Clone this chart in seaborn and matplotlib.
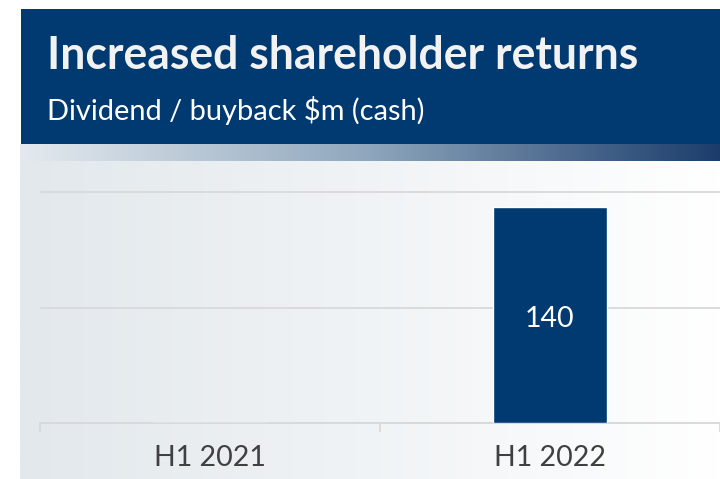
import numpy as np
import pandas as pd
import matplotlib
matplotlib.use("Agg")
import matplotlib.pyplot as plt
from matplotlib.colors import LinearSegmentedColormap
from matplotlib.patches import Rectangle
import seaborn as sns

# ---- data ----
periods = ["H1 2021", "H1 2022"]
returns_m = [0, 140]
title = "Increased shareholder returns"
subtitle = "Dividend / buyback $m (cash)"

NAVY = "#003A70"
W, H = 720, 479

sns.set_theme(style="white")
plt.rcParams["font.family"] = ["Lato", "DejaVu Sans"]

fig = plt.figure(figsize=(W / 100, H / 100), dpi=100)
fig.patch.set_facecolor("white")

# background layer in pixel coordinates
bg = fig.add_axes([0, 0, 1, 1], zorder=0)
bg.set_xlim(0, W)
bg.set_ylim(H, 0)
bg.axis("off")

grad = np.linspace(0, 1, 512)[None, :]
panel_cmap = LinearSegmentedColormap.from_list("panel", ["#e2e8ec", "#ffffff"])
bg.imshow(grad, cmap=panel_cmap, extent=[20, W, H, 161], aspect="auto", zorder=1)
strip_cmap = LinearSegmentedColormap.from_list("strip", ["#e4eaef", "#8ea6bc", "#1c3d6c"])
bg.imshow(grad, cmap=strip_cmap, extent=[20, W, 161, 144], aspect="auto", zorder=1)
bg.add_patch(Rectangle((21, 9), W - 21, 135, color=NAVY, zorder=2, lw=0))

t1 = bg.text(47, 69, title, color="#f2f2f2", fontsize=30, fontweight="bold",
             va="baseline", ha="left", zorder=3)
t2 = bg.text(47, 120, subtitle, color="#ffffff", fontsize=20,
             va="baseline", ha="left", zorder=3)

# fit text widths to reference
fig.canvas.draw()
r = fig.canvas.get_renderer()
for t, target in ((t1, 591), (t2, 378)):
    w = t.get_window_extent(r).width
    t.set_fontsize(t.get_fontsize() * target / w)

# ---- chart ----
bottom_px, top_px = 423, 190.5
ax = fig.add_axes([40 / W, 1 - bottom_px / H, 1 - 40 / W, (bottom_px - top_px) / H], zorder=2)
ax.patch.set_alpha(0)

df = pd.DataFrame({"period": periods, "value": returns_m})
sns.barplot(data=df, x="period", y="value", color=NAVY, saturation=1,
            width=0.333, ax=ax, zorder=3)

ax.set_xlim(-0.5, 1.5)
ax.set_ylim(0, 151)
ax.set_yticks([75, 150])
ax.set_yticklabels([])
ax.tick_params(axis="y", length=0)
ax.yaxis.grid(True, color="#d9d9d9", linewidth=1.3, zorder=0)
ax.set_axisbelow(True)

for s in ["top", "right", "left"]:
    ax.spines[s].set_visible(False)
ax.spines["bottom"].set_color("#d9d9d9")
ax.spines["bottom"].set_linewidth(1.4)

ax.set_xticks(range(len(periods)))
ax.set_xticklabels(periods)
ax.set_xticks([-0.5, 0.5, 1.5], minor=True)
ax.tick_params(axis="x", which="major", bottom=True, length=0, pad=16, labelsize=20.5,
               labelcolor="#404040")
ax.tick_params(axis="x", which="minor", bottom=True, length=6.8, width=1.3,
               color="#d9d9d9", direction="out")
for tl in ax.xaxis.get_minorticklines():
    tl.set_clip_on(False)
ax.set_xlabel("")
ax.set_ylabel("")

for cont in ax.containers:
    labels = [f"{v:g}" if v else "" for v in cont.datavalues]
    anns = ax.bar_label(cont, labels=labels, label_type="center", color="white",
                        fontsize=20.5)
    for a in anns:
        a.xyann = (0, -2.5)

fig.savefig("out.png", dpi=100)
